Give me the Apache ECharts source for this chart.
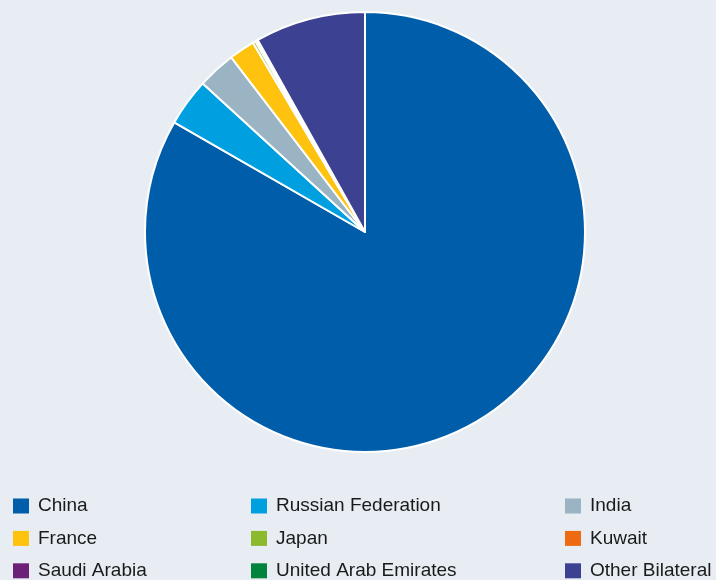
<!DOCTYPE html>
<html>
<head>
<meta charset="utf-8">
<script src="https://cdn.jsdelivr.net/npm/echarts@6/dist/echarts.min.js"></script>
<style>
  html, body { margin: 0; padding: 0; background: #e8edf4; }
  #chart { width: 716px; height: 580px; }
</style>
</head>
<body>
<div id="chart"></div>
<script>
// Bilateral creditors, share of debt (%)
const categories = ['China', 'Russian Federation', 'India', 'France', 'Japan', 'Kuwait', 'Saudi Arabia', 'United Arab Emirates', 'Other Bilateral'];
const shares = [83.3, 3.5, 2.8, 1.9, 0.2, 0.05, 0.05, 0.1, 8.1];
const colors = ['#005daa', '#00a0e0', '#9ab4c4', '#ffc20e', '#8db92e', '#ee6a11', '#6d2077', '#00843d', '#3c4192'];

// legend columns (row-major reading order of the key)
const legendColumns = [
  ['China', 'France', 'Saudi Arabia'],
  ['Russian Federation', 'Japan', 'United Arab Emirates'],
  ['India', 'Kuwait', 'Other Bilateral']
];
const columnLeft = [13, 251, 565];

const chart = echarts.init(document.getElementById('chart'));
chart.setOption({
  backgroundColor: '#e8edf4',
  color: colors,
  animation: false,
  legend: legendColumns.map((names, i) => ({
    data: names,
    orient: 'vertical',
    left: columnLeft[i],
    top: 496.5,
    height: 120,
    padding: 0,
    itemWidth: 16,
    itemHeight: 15,
    itemGap: 13.4,
    icon: 'rect',
    itemStyle: { borderWidth: 0 },
    selectedMode: false,
    textStyle: { fontFamily: 'Liberation Sans, Arial', fontSize: 19, lineHeight: 15, color: '#1a1a1a', padding: [0, 0, 0, 4] }
  })),
  series: [{
    type: 'pie',
    center: [365, 232],
    radius: [0, 220],
    startAngle: 90,
    clockwise: true,
    label: { show: false },
    labelLine: { show: false },
    minShowLabelAngle: 0,
    itemStyle: { borderColor: '#ffffff', borderWidth: 2 },
    emphasis: { disabled: true },
    data: categories.map((name, i) => ({ name, value: shares[i] }))
  }]
});
</script>
</body>
</html>
